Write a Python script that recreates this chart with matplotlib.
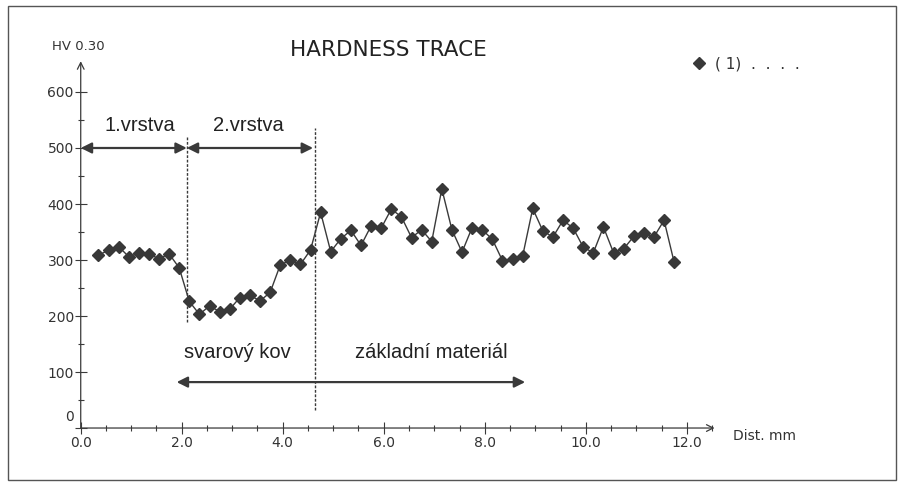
import numpy as np
import matplotlib
matplotlib.use("Agg")
import matplotlib.pyplot as plt
from matplotlib.patches import Rectangle
from matplotlib.transforms import ScaledTranslation

plt.rcParams['font.family'] = ['Liberation Sans', 'DejaVu Sans']

# measured positions (mm) and hardness values (HV 0.30)
dist_mm = [0.35, 0.55, 0.75, 0.95, 1.15, 1.35, 1.55, 1.75, 1.95, 2.15,
           2.35, 2.55, 2.75, 2.95, 3.15, 3.35, 3.55, 3.75, 3.95, 4.15,
           4.35, 4.55, 4.75, 4.95, 5.15, 5.35, 5.55, 5.75, 5.95, 6.15,
           6.35, 6.55, 6.75, 6.95, 7.15, 7.35, 7.55, 7.75, 7.95, 8.15,
           8.35, 8.55, 8.75, 8.95, 9.15, 9.35, 9.55, 9.75, 9.95, 10.15,
           10.35, 10.55, 10.75, 10.95, 11.15, 11.35, 11.55, 11.75]
hardness = [309, 317, 324, 306, 312, 311, 302, 311, 286, 226,
            203, 218, 208, 212, 233, 237, 227, 242, 291, 300,
            292, 318, 385, 315, 338, 353, 326, 361, 357, 391,
            377, 340, 354, 333, 427, 354, 314, 358, 354, 337,
            299, 301, 307, 392, 352, 341, 371, 357, 323, 313,
            359, 313, 320, 342, 348, 341, 371, 296]

x_ticks = [0, 2, 4, 6, 8, 10, 12]
x_labels = ['0.0', '2.0', '4.0', '6.0', '8.0', '10.0', '12.0']
y_ticks = [0, 100, 200, 300, 400, 500, 600]
y_labels = ['0', '100', '200', '300', '400', '500', '600']

# zone boundaries (mm)
layer_border = 2.1
fusion_line = 4.63

ink = '#3a3a3a'
wide = 'DejaVu Sans'

fig = plt.figure(figsize=(9.03, 4.87), dpi=100)
ax = fig.add_axes([0.0894, 0.1211, 0.7047, 0.759])
ax.set_xlim(0, 12.6)
ax.set_ylim(0, 660)
for s in ax.spines.values():
    s.set_visible(False)

# axes with open arrow heads
ax.annotate('', xy=(12.55, 0), xytext=(0, 0), annotation_clip=False,
            arrowprops=dict(arrowstyle='->', lw=0.9, color=ink, shrinkA=0, shrinkB=0, mutation_scale=12))
ax.annotate('', xy=(0, 655), xytext=(0, 0), annotation_clip=False,
            arrowprops=dict(arrowstyle='->', lw=0.9, color=ink, shrinkA=0, shrinkB=0, mutation_scale=12))

ax.set_xticks(x_ticks)
ax.set_xticklabels(x_labels, family=wide)
ax.set_xticks(np.arange(0, 12.6, 0.5), minor=True)
ax.set_yticks(y_ticks)
ax.set_yticklabels(y_labels, family=wide)
ax.set_yticks(np.arange(50, 650, 100), minor=True)
ax.tick_params(which='major', direction='inout', length=8, width=0.8, color=ink,
               labelsize=10, labelcolor='#333333')
ax.tick_params(which='minor', direction='inout', length=5, width=0.8, color=ink)
ax.tick_params(axis='x', pad=2)
ax.tick_params(axis='y', pad=1)
for lab in ax.get_yticklabels():
    if lab.get_text() == '0':
        lab.set_transform(lab.get_transform() + ScaledTranslation(0, 9 / 72, fig.dpi_scale_trans))

# data
ax.plot(dist_mm, hardness, color=ink, lw=1, marker='D', ms=5.8,
        mfc='#383838', mec='#383838', clip_on=False, zorder=3)

# zone markers
ax.vlines(layer_border, 190, 522, colors=ink, linestyles=(0, (2, 1.2)), lw=1)
ax.vlines(fusion_line, 32, 535, colors=ink, linestyles=(0, (2, 1.2)), lw=1)

arrow = dict(arrowstyle='<|-|>', lw=1.6, color=ink, shrinkA=0, shrinkB=0, mutation_scale=16)
ax.annotate('', xy=(0, 500), xytext=(layer_border, 500), arrowprops=arrow)
ax.annotate('', xy=(layer_border, 500), xytext=(4.6, 500), arrowprops=arrow)
ax.annotate('', xy=(1.9, 82), xytext=(8.8, 82), arrowprops=arrow)

ax.text(1.17, 541, '1.vrstva', ha='center', va='center', fontsize=14.5, color='#222222')
ax.text(3.32, 541, '2.vrstva', ha='center', va='center', fontsize=14.5, color='#222222')
ax.text(3.1, 134, 'svarový kov', ha='center', va='center', fontsize=14.5, color='#222222')
ax.text(6.95, 134, 'základní materiál', ha='center', va='center', fontsize=14.5, color='#222222')

fig.text(388 / 903, 1 - 50 / 487, 'HARDNESS TRACE', ha='center', va='center', fontsize=15.5,
         family=wide, color='#222222')
fig.text(52 / 903, 1 - 47 / 487, 'HV 0.30', ha='left', va='center', fontsize=9.5,
         family=wide, color='#333333')
fig.text(733 / 903, 1 - 436 / 487, 'Dist. mm', ha='left', va='center', fontsize=10,
         family=wide, color='#333333')

# legend
fig.lines.append(plt.Line2D([699 / 903], [1 - 63 / 487], transform=fig.transFigure,
                            marker='D', ms=5.8, color='#383838', ls='none'))
fig.text(715 / 903, 1 - 64 / 487, '( 1)  .  .  .  .', ha='left', va='center', fontsize=11,
         family=wide, color='#333333')

# outer frame
fig.add_artist(Rectangle((8 / 903, 7 / 487), 888 / 903, 474 / 487, transform=fig.transFigure,
                         fill=False, lw=1, ec='#555555'))

fig.savefig('out.png', dpi=100)
